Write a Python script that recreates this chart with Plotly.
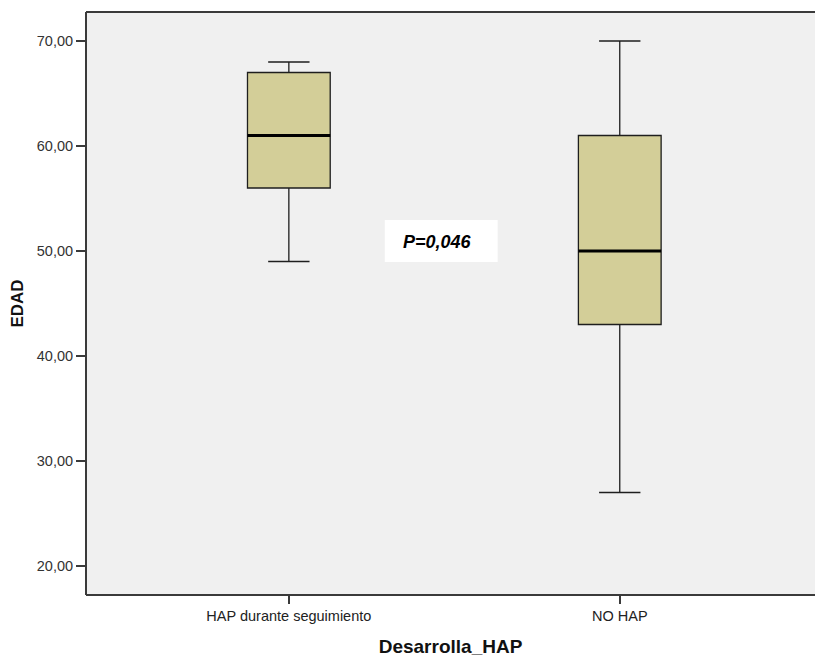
import plotly.graph_objects as go

categories = ["HAP durante seguimiento", "NO HAP"]
lower = [49, 27]
q1 = [56, 43]
median = [61, 50]
q3 = [67, 61]
upper = [68, 70]
y_ticks = [20, 30, 40, 50, 60, 70]
p_text = "P=0,046"

fig = go.Figure()
fig.add_trace(go.Box(
    x=categories, q1=q1, median=median, q3=q3,
    lowerfence=lower, upperfence=upper,
    width=0.25, whiskerwidth=0.5,
    fillcolor="#D3CE98", line=dict(color="#1e1e1e", width=1.3),
    boxpoints=False, hoverinfo="skip", showlegend=False,
))
# thicker median bars
for i, m in enumerate(median):
    fig.add_shape(type="line", xref="x", yref="y", x0=i - 0.125, x1=i + 0.125,
                  y0=m, y1=m, line=dict(color="black", width=3))

# P-value box
fig.add_shape(type="rect", xref="x", yref="y", x0=0.29, x1=0.631, y0=48.95, y1=52.95,
              fillcolor="white", line=dict(width=0), layer="above")
fig.add_annotation(x=0.448, y=50.9, xref="x", yref="y", text="<b><i>" + p_text + "</i></b>",
                   showarrow=False, font=dict(family="Liberation Sans, Arial", size=18, color="black"))

# plot frame (left, top, bottom)
for (x0, y0, x1, y1) in [(0, 0, 0, 1), (0, 1, 1, 1), (0, 0, 1, 0)]:
    fig.add_shape(type="line", xref="paper", yref="paper", x0=x0, y0=y0, x1=x1, y1=y1,
                  line=dict(color="#3a3a3a", width=2))

fig.update_layout(
    width=815, height=659,
    margin=dict(l=86, r=0, t=12, b=64),
    paper_bgcolor="white", plot_bgcolor="#F0F0F0",
    separators=",.",
    font=dict(family="Liberation Sans, Arial", color="#222"),
    xaxis=dict(
        type="category", range=[-0.613, 1.59], showgrid=False, zeroline=False,
        ticks="outside", ticklen=8, tickwidth=1.5, tickcolor="#3a3a3a",
        tickfont=dict(size=14.5, color="#222"),
        title=dict(text="<b>Desarrolla_HAP</b>", font=dict(size=19, color="#111"), standoff=16),
    ),
    yaxis=dict(
        range=[17.24, 72.76], tickvals=y_ticks, tickformat=".2f", showgrid=False, zeroline=False,
        ticks="outside", ticklen=9, tickwidth=1.5, tickcolor="#3a3a3a",
        tickfont=dict(size=14.5, color="#333"),
        title=dict(text="<b>EDAD</b>", font=dict(size=17, color="#111"), standoff=8),
    ),
)
fig.write_html("out.html", config={"displayModeBar": False},
               post_script="document.body.style.margin='0px';document.body.style.overflow='hidden';")
